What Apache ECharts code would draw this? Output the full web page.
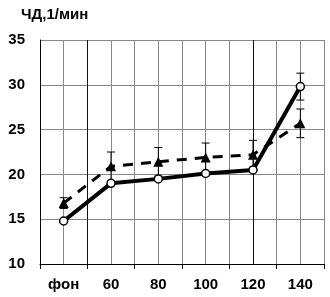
<!DOCTYPE html>
<html>
<head>
<meta charset="utf-8">
<script src="https://cdn.jsdelivr.net/npm/echarts@6/dist/echarts.min.js"></script>
<style>
  html, body { margin: 0; padding: 0; background: #fff; }
</style>
</head>
<body>
<div id="chart" style="width: 330px;height: 297px"></div>
<script>
// категории по оси X
const categories = ['фон', '60', '80', '100', '120', '140']
// сплошная линия (кружки)
const solidValues = [14.8, 19.0, 19.5, 20.1, 20.5, 29.8]
const solidErr = [0, 0, 0, 0, 0, 1.5]
// пунктир (треугольники)
const dashValues = [16.8, 20.9, 21.4, 21.9, 22.2, 25.7]
const dashErr = [0.6, 1.6, 1.6, 1.6, 1.6, 1.6]

const font = 'Arial, "Liberation Sans", sans-serif'

function errData(vals, errs) {
  return vals.map((v, i) => [i, v - errs[i], v + errs[i]])
}

function errRender(params, api) {
  const x = api.value(0)
  const lo = api.coord([x, api.value(1)])
  const hi = api.coord([x, api.value(2)])
  const w = 4
  const style = { stroke: '#000', lineWidth: 1 }
  return {
    type: 'group',
    children: [
      { type: 'line', shape: { x1: lo[0], y1: lo[1], x2: hi[0], y2: hi[1] }, style },
      { type: 'line', shape: { x1: hi[0] - w, y1: hi[1], x2: hi[0] + w, y2: hi[1] }, style },
      { type: 'line', shape: { x1: lo[0] - w, y1: lo[1], x2: lo[0] + w, y2: lo[1] }, style },
    ],
  }
}

let chart = echarts.init(document.getElementById('chart'))
chart.setOption({
  animation: false,
  backgroundColor: '#fff',
  title: {
    text: 'ЧД,1/мин',
    left: 16,
    top: 2,
    textStyle: { fontFamily: font, fontSize: 15, fontWeight: 'bold', color: '#000' },
  },
  grid: { left: 40, right: 6, top: 40, bottom: 33 },
  xAxis: [
    {
      type: 'category',
      data: categories,
      boundaryGap: true,
      axisLine: { lineStyle: { color: '#000', width: 1 } },
      axisTick: { show: true, length: 5, lineStyle: { color: '#000' } },
      axisLabel: { fontFamily: font, fontSize: 15, fontWeight: 'bold', color: '#000', margin: 13 },
      splitLine: { show: false },
    },
    {
      // полукатегорийная сетка
      type: 'value',
      min: 0,
      max: 12,
      interval: 1,
      show: true,
      position: 'top',
      axisLine: { show: false },
      axisTick: { show: false },
      axisLabel: { show: false },
      splitLine: {
        show: true,
        lineStyle: {
          width: 1,
          color: ['#000', '#888', '#111', '#888', '#888', '#888', '#888', '#888', '#888', '#111', '#888', '#888', '#888'],
        },
      },
    },
  ],
  yAxis: {
    type: 'value',
    min: 10,
    max: 35,
    interval: 5,
    axisLine: { show: true, lineStyle: { color: '#000' } },
    axisTick: { show: false },
    axisLabel: { fontFamily: font, fontSize: 15, fontWeight: 'bold', color: '#000', margin: 15 },
    splitLine: { lineStyle: { color: '#888', width: 1 } },
  },
  series: [
    {
      type: 'custom',
      xAxisIndex: 0,
      renderItem: errRender,
      data: errData(dashValues, dashErr),
      z: 3,
    },
    {
      type: 'custom',
      xAxisIndex: 0,
      renderItem: errRender,
      data: errData(solidValues, solidErr),
      z: 3,
    },
    {
      type: 'line',
      xAxisIndex: 0,
      data: dashValues,
      symbol: 'triangle',
      symbolSize: 10,
      itemStyle: { color: '#000' },
      lineStyle: { color: '#000', width: 3, type: [10, 8] },
      z: 4,
    },
    {
      type: 'line',
      xAxisIndex: 0,
      data: solidValues,
      symbol: 'circle',
      symbolSize: 8,
      itemStyle: { color: '#fff', borderColor: '#000', borderWidth: 1.5 },
      lineStyle: { color: '#000', width: 4 },
      z: 5,
    },
  ],
})
</script>
</body>
</html>
